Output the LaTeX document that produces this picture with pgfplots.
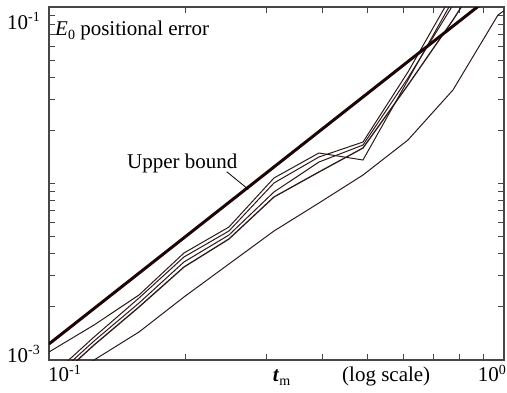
\documentclass[border=0pt]{standalone}
\usepackage{fontspec}
\setmainfont{Liberation Serif}
\usepackage{pgfplots}
\pgfplotsset{compat=1.18}
\definecolor{bnd}{RGB}{30,5,5}
\definecolor{ln}{RGB}{45,25,25}
\definecolor{ax}{RGB}{70,70,70}
\newcommand{\sups}[1]{\raisebox{0.35em}{\fontsize{14}{14}\selectfont #1}}
\newcommand{\subs}[1]{\raisebox{-0.22em}{\fontsize{14}{14}\selectfont #1}}
\begin{document}
\fontsize{21}{25}\selectfont
\begin{tikzpicture}
\begin{axis}[
  at={(0,0)}, anchor=south west,
  scale only axis, width=455pt, height=353pt,
  xmode=log, ymode=log,
  xmin=0.1, xmax=1, ymin=1e-3, ymax=0.1,
  axis line style={draw=ax, line width=1.2pt},
  tick align=inside,
  every tick/.style={draw=ax, line width=1pt},
  major tick length=6pt, minor tick length=6pt,
  xtick={0.1}, xticklabels={10\sups{-1}},
  xticklabel style={anchor=north west, inner sep=0pt, yshift=-5pt, xshift=-1pt},
  extra x ticks={1}, extra x tick labels={10\sups{0}},
  extra x tick style={xticklabel style={anchor=north east, xshift=3pt}},
  minor xtick={0.2,0.3,0.4,0.5,0.6,0.7,0.8,0.9},
  ytick={1e-3}, yticklabels={10\sups{-3}},
  yticklabel style={anchor=base east, inner sep=0pt, xshift=-9pt, yshift=-2pt},
  extra y ticks={1e-2,1e-1}, extra y tick labels={,10\sups{-1}},
  extra y tick style={yticklabel style={anchor=north east, yshift=-3.5pt}},
  minor ytick={2e-3,3e-3,4e-3,5e-3,6e-3,7e-3,8e-3,9e-3,2e-2,3e-2,4e-2,5e-2,6e-2,7e-2,8e-2,9e-2},
  log ticks with fixed point=false,
]
% thin curves
\addplot[ln, line width=1pt] coordinates {(0.1,1.110e-3) (0.1256,1.579e-3) (0.1577,2.335e-3) (0.1980,4.039e-3) (0.2486,5.668e-3) (0.3122,1.0745e-2) (0.3920,1.489e-2) (0.4899,1.359e-2) (0.6151,3.858e-2) (0.7724,0.1096) (0.9700,0.311)};
\addplot[ln, line width=1pt] coordinates {(0.1,7.91e-4) (0.1256,1.350e-3) (0.1577,2.245e-3) (0.1980,3.834e-3) (0.2486,5.381e-3) (0.3122,1.0065e-2) (0.3920,1.413e-2) (0.4899,1.718e-2) (0.6151,4.282e-2) (0.7724,0.1200) (0.9700,0.332)};
\addplot[ln, line width=1pt] coordinates {(0.1,7.50e-4) (0.1256,1.281e-3) (0.1577,2.103e-3) (0.1980,3.592e-3) (0.2486,5.107e-3) (0.3122,8.95e-3) (0.3920,1.323e-2) (0.4899,1.652e-2) (0.6151,3.960e-2) (0.7724,0.1026) (0.9700,0.273)};
\addplot[ln, line width=1.3pt] coordinates {(0.1,7.12e-4) (0.1256,1.216e-3) (0.1577,1.997e-3) (0.1980,3.364e-3) (0.2486,4.849e-3) (0.3122,8.386e-3) (0.3920,1.162e-2) (0.4899,1.589e-2) (0.6151,3.614e-2) (0.7724,8.44e-2) (0.9700,0.2103)};
\addplot[ln, line width=1pt] coordinates {(0.1,6.76e-4) (0.1256,1.0e-3) (0.1577,1.441e-3) (0.1980,2.275e-3) (0.2486,3.499e-3) (0.3122,5.38e-3) (0.3920,7.755e-3) (0.4899,1.117e-2) (0.6151,1.764e-2) (0.7724,3.385e-2) (0.9700,0.0901) (1.218,0.1368)};
% upper bound
\addplot[bnd, line width=3pt] coordinates {(0.1,1.233e-3) (1,0.1315)};
\end{axis}
\node[anchor=base west, inner sep=0pt] at (6pt,325pt) {\textit{E}\subs{0} positional error};
\node[anchor=base west, inner sep=0pt] at (78pt,192pt) {Upper bound};
\draw[line width=0.8pt, black] (177.7pt,188.3pt) -- (199.3pt,170.7pt);
\node[anchor=base west, inner sep=0pt] at (223.7pt,-21pt) {\textbf{\textit{t}}\subs{m}};
\node[anchor=base west, inner sep=0pt] at (293pt,-21.5pt) {(log scale)};
\pgfresetboundingbox
\path[use as bounding box] (-49pt,-32pt) rectangle (458pt,360pt);
\end{tikzpicture}
\end{document}
